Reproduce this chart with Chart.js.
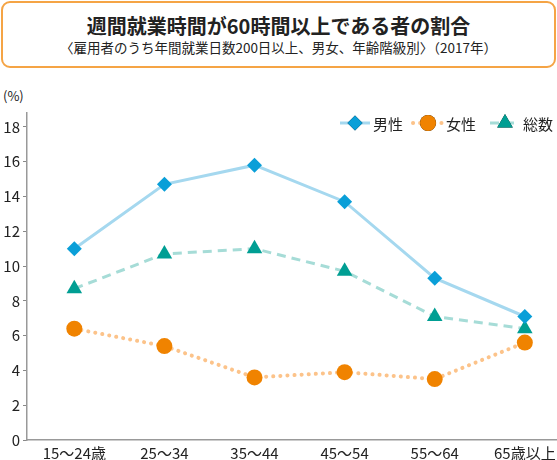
<!DOCTYPE html>
<html lang="ja">
<head>
<meta charset="utf-8">
<script src="https://cdn.jsdelivr.net/npm/chart.js@4/dist/chart.umd.min.js"></script>
<style>
  html,body{margin:0;padding:0;background:#fff;}
  body{width:557px;height:460px;position:relative;overflow:hidden;font-family:"Noto Sans CJK JP","Noto Sans",sans-serif;color:#222;}
  .head{position:absolute;left:1px;top:1px;width:551px;height:63px;border:2px solid #f5a445;border-radius:9px;text-align:center;}
  .head h1{margin:0;padding-top:11px;font-size:20px;line-height:24px;font-weight:bold;}
  .head p{margin:0;margin-top:1px;font-size:13.5px;line-height:16px;}
  .unit{position:absolute;left:3px;top:86px;font-size:13px;}
  #wrap{position:absolute;left:0;top:0;width:557px;height:460px;}
</style>
</head>
<body>
<div class="head">
  <h1>週間就業時間が60時間以上である者の割合</h1>
  <p>〈雇用者のうち年間就業日数200日以上、男女、年齢階級別〉（2017年）</p>
</div>
<div class="unit">(%)</div>
<div id="wrap"><canvas id="chart" width="557" height="460"></canvas></div>
<script>
// age groups
const labels = ['15～24歳','25～34','35～44','45～54','55～64','65歳以上'];
const male   = [11.0, 14.7, 15.8, 13.7, 9.3, 7.1];
const female = [6.4, 5.4, 3.6, 3.9, 3.5, 5.6];
const total  = [8.7, 10.7, 11.0, 9.7, 7.1, 6.4];
const yTicks = [0,2,4,6,8,10,12,14,16,18];

const FONT = '"Noto Sans CJK JP","Noto Sans",sans-serif';
const pts = arr => arr.map((v,i)=>({x:i, y:v}));

// legend: short line + marker, drawn in the top right of the plot
const lineLegend = {
  id:'lineLegend',
  afterDraw(chart){
    const ctx = chart.ctx;
    const spots = [340, 413, 490];
    const y = 123;
    chart.data.datasets.forEach((ds,i)=>{
      const x0 = spots[i];
      ctx.save();
      ctx.strokeStyle = ds.borderColor;
      ctx.lineWidth = ds.borderWidth;
      ctx.lineCap = ds.borderCapStyle || 'butt';
      ctx.setLineDash(ds.borderDash || []);
      ctx.beginPath(); ctx.moveTo(x0, y); ctx.lineTo(x0+30, y); ctx.stroke();
      ctx.setLineDash([]);
      Chart.helpers.drawPoint(ctx, {pointStyle: ds.pointStyle, radius: ds.pointRadius, borderWidth: 0}, x0+15, y);
      ctx.fillStyle = ds.pointBackgroundColor;
      ctx.fill();
      ctx.fillStyle = '#222';
      ctx.font = '15px ' + FONT;
      ctx.textBaseline = 'middle';
      ctx.fillText(ds.label, x0+33, y+1);
      ctx.restore();
    });
  }
};

new Chart(document.getElementById('chart'), {
  type:'line',
  data:{
    datasets:[
      {label:'男性', data:pts(male), borderColor:'#a5d8ef', borderWidth:3,
       pointStyle:'rectRot', pointRadius:7.5, pointHoverRadius:7.5,
       pointBackgroundColor:'#0a9fd8', pointBorderWidth:0},
      {label:'女性', data:pts(female), borderColor:'#fcc38a', borderWidth:4,
       borderDash:[0.1,7], borderCapStyle:'round',
       pointStyle:'circle', pointRadius:8, pointHoverRadius:8,
       pointBackgroundColor:'#f08300', pointBorderWidth:0},
      {label:'総数', data:pts(total), borderColor:'#a6dcd7', borderWidth:3,
       borderDash:[9,6],
       pointStyle:'triangle', pointRadius:9, pointHoverRadius:9,
       pointBackgroundColor:'#009e93', pointBorderWidth:0}
    ]
  },
  options:{
    responsive:false, animation:false,
    layout:{autoPadding:false, padding:{left:0, right:0, top:113, bottom:0}},
    plugins:{legend:{display:false}, tooltip:{enabled:false}},
    scales:{
      x:{type:'linear', min:-0.525, max:5.357,
         afterBuildTicks(ax){ ax.ticks = labels.map((_,i)=>({value:i})); },
         ticks:{callback:v=>labels[v], color:'#222', font:{family:FONT, size:15, lineHeight:1.8}, padding:0, maxRotation:0, autoSkip:false},
         grid:{display:false, drawTicks:false},
         border:{color:'#999', width:1.5},
         afterFit(ax){ ax.height = 20; }},
      y:{min:0, max:18.8,
         afterBuildTicks(ax){ ax.ticks = yTicks.map(v=>({value:v})); },
         ticks:{color:'#222', font:{family:FONT, size:15}, padding:3},
         grid:{drawOnChartArea:false, drawTicks:true, tickLength:4, color:'#888'},
         border:{color:'#999', width:1.5},
         afterFit(ax){ ax.width = 27; }}
    }
  },
  plugins:[lineLegend]
});
</script>
</body>
</html>
